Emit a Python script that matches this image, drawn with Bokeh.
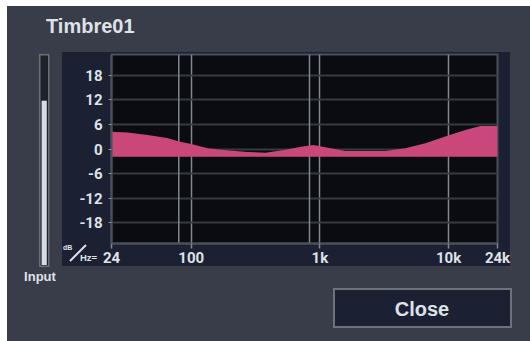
from bokeh.plotting import figure
from bokeh.models import Span, FixedTicker, Column, Div
from bokeh.embed import file_html
from bokeh.resources import INLINE

# ---------------- data ----------------
title_text = "Timbre01"
freqs_hz = [24, 32, 46, 65, 80, 100, 134, 169, 274, 377, 540, 732, 891, 1100,
            1580, 3230, 4610, 6600, 9790, 13500, 17700, 24000]
gains_db = [4.2, 4.0, 3.4, 2.7, 1.8, 1.2, 0.2, -0.2, -0.7, -0.9, -0.2, 0.6, 1.0, 0.4,
            -0.5, -0.5, 0.2, 1.4, 3.2, 4.6, 5.6, 5.6]
fill_floor_db = -1.9
band_marker_hz = [80, 830]
x_ticks = [24, 100, 1000, 10000, 24000]
x_tick_labels = ["24", "100", "1k", "10k", "24k"]
y_ticks = [-18, -12, -6, 0, 6, 12, 18]
y_tick_labels = ["-18", "-12", "-6", "0", "6", "12", "18"]
x_lo, x_hi = 24, 24000
y_lo, y_hi = -23, 23
input_level = 0.79
meter_label = "Input"
button_text = "Close"

# ---------------- style ----------------
W, H = 530, 341
PANEL = "#393d49"
NAVY = "#1b2132"
BLACK = "#0a0c11"
HGRID = "#363b42"
VGRID = "#80868f"
FRAME = "#4a5058"
TEXT = "#dfe2e7"
PINK = "#c9477b"
FONT = "Roboto"

# ---------- dialog chrome: an SVG drawn in a Div underneath the graph ----------
meter_top, meter_bot = 57, 265
level_top = meter_bot - input_level * (meter_bot - meter_top)


def svg_text(x, y, s, size, anchor="start", weight="bold"):
    return (f'<text x="{x}" y="{y}" font-family="{FONT}" font-size="{size}" '
            f'font-weight="{weight}" fill="{TEXT}" text-anchor="{anchor}">{s}</text>')


chrome = "".join([
    f'<svg xmlns="http://www.w3.org/2000/svg" width="{W}" height="{H}" '
    f'style="display:block;position:absolute;left:0;top:0">',
    f'<rect x="0" y="0" width="{W}" height="{H}" fill="white"/>',
    f'<rect x="7" y="6" width="{W - 7}" height="{H - 6}" fill="{PANEL}"/>',
    f'<rect x="62" y="52" width="448" height="214" fill="{NAVY}"/>',
    # input meter
    f'<rect x="39.75" y="54.75" width="9" height="211.5" fill="#1d2128" '
    f'stroke="#6a707a" stroke-width="1.5"/>',
    f'<rect x="41.6" y="{level_top:.1f}" width="5.2" height="{meter_bot - level_top:.1f}" '
    f'fill="#d7dce4"/>',
    svg_text(40, 281, meter_label, 13, anchor="middle"),
    # title
    svg_text(46, 33, title_text, 20),
    # unit mark dB/Hz
    svg_text(63, 250, "dB", 7),
    f'<line x1="70" y1="261" x2="86" y2="245" stroke="{TEXT}" stroke-width="2"/>',
    svg_text(80, 261, "Hz=", 9.5),
    # close button
    f'<rect x="334" y="289" width="177" height="38" fill="{NAVY}" '
    f'stroke="#6d727c" stroke-width="2"/>',
    svg_text(422, 316, button_text, 20, anchor="middle"),
    '</svg>',
])
bg = Div(text=f'<div style="position:relative;width:{W}px;height:{H}px">{chrome}</div>',
         width=W, height=H, margin=(0, 0, 0, 0))

# ---------------- EQ graph (overlaid, transparent border) ----------------
p = figure(width=W, height=H, x_axis_type="log", x_range=(x_lo, x_hi),
           y_range=(y_lo, y_hi), output_backend="svg", toolbar_location=None,
           min_border_left=111, min_border_right=33, min_border_top=54,
           min_border_bottom=98, title=None)
p.border_fill_color = None
p.background_fill_color = BLACK
p.outline_line_color = FRAME
p.outline_line_width = 2
p.margin = (-H, 0, 0, 0)

p.xaxis.ticker = FixedTicker(ticks=x_ticks)
p.xaxis.major_label_overrides = dict(zip(x_ticks, x_tick_labels))
p.yaxis.ticker = FixedTicker(ticks=y_ticks)
p.yaxis.major_label_overrides = dict(zip(y_ticks, y_tick_labels))
for ax in (p.xaxis[0], p.yaxis[0]):
    ax.axis_line_color = FRAME
    ax.axis_line_width = 2
    ax.major_tick_in = 0
    ax.minor_tick_line_color = None
    ax.major_label_text_font = FONT
    ax.major_label_text_font_style = "bold"
    ax.major_label_text_font_size = "15px"
    ax.major_label_text_color = TEXT
p.xaxis.major_tick_out = 5
p.xaxis.major_tick_line_color = VGRID
p.xaxis.major_tick_line_width = 1.5
p.xaxis.major_label_standoff = 0
p.yaxis.major_tick_out = 3
p.yaxis.major_tick_line_color = "#8a9099"
p.yaxis.major_label_standoff = 6

p.xgrid.grid_line_color = VGRID
p.xgrid.grid_line_width = 1.5
p.ygrid.grid_line_color = HGRID
p.ygrid.grid_line_width = 2

for f in band_marker_hz:
    p.add_layout(Span(location=f, dimension="height", line_color=VGRID,
                      line_width=1.5, level="underlay"))

p.varea(x=freqs_hz, y1=[fill_floor_db] * len(freqs_hz), y2=gains_db,
        fill_color=PINK, fill_alpha=1)

root = Column(children=[bg, p], spacing=0)

open("out.html", "w").write(file_html(root, INLINE))
